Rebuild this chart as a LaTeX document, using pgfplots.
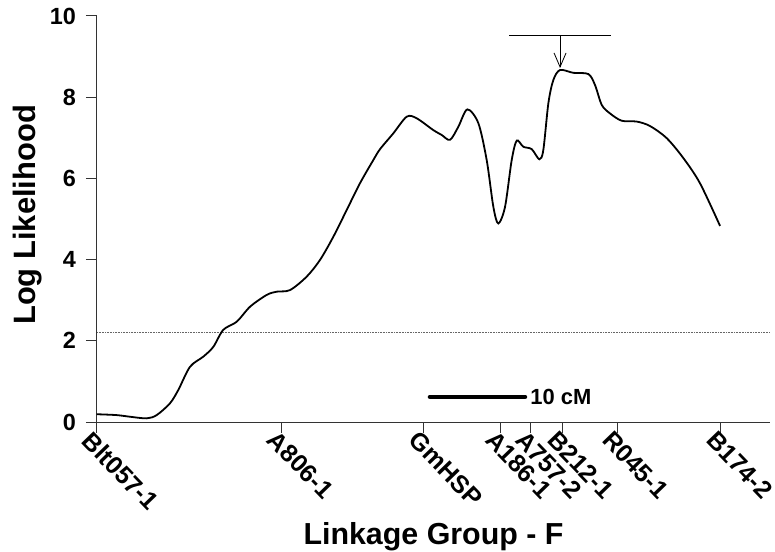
\documentclass[border=0pt]{standalone}
\usepackage{fontspec}
\setmainfont{Liberation Sans}
\usepackage{pgfplots}
\pgfplotsset{compat=1.18}
\usetikzlibrary{arrows.meta}
\begin{document}
\begin{tikzpicture}
\begin{axis}[
  at={(0,0)}, anchor=south west,
  scale only axis, width=673bp, height=406bp,
  xmin=0, xmax=70.84, ymin=0, ymax=10,
  axis x line=bottom, axis y line=left,
  axis line style={-, line width=1bp, black!80},
  tick style={line width=1bp, black!80},
  tick align=outside, major tick length=11bp,
  ytick={0,2,4,6,8,10},
  xtick={0,19.47,34.37,42.42,45.58,48.95,54.74,65.68},
  xticklabels={Blt057-1,A806-1,GmHSP,A186-1,A757-2,B212-1,R045-1,B174-2},
  /pgf/number format/assume math mode=true,
  xticklabel style={font=\bfseries\fontsize{25}{28}\selectfont, rotate=-46, anchor=north west, inner sep=0bp, xshift=-5bp},
  yticklabel style={font=\bfseries\fontsize{23.5}{26}\selectfont, anchor=east, inner sep=2bp, xshift=-8bp},
  xlabel={Linkage Group - F},
  ylabel={Log Likelihood},
  xlabel style={font=\bfseries\fontsize{30.5}{34}\selectfont, at={(axis description cs:0.5,0)}, anchor=center, yshift=-115bp},
  ylabel style={font=\bfseries\fontsize{31}{34}\selectfont, at={(axis description cs:0,0.51)}, anchor=center, yshift=69bp},
  clip=false,
]
\addplot[densely dotted, black!60, line width=0.6bp] coordinates {(0,2.2) (70.84,2.2)};
\addplot[smooth, tension=0.5, line width=1.8bp, black] coordinates {
(0,0.19) (0.14,0.19) (2.07,0.17) (3.47,0.13) (5.23,0.09) (6.28,0.17) (7.68,0.46)
(8.56,0.79) (9.79,1.36) (11.19,1.61) (12.24,1.85) (13.29,2.27) (14.71,2.47)
(16.11,2.84) (17.86,3.13) (18.92,3.21) (20.32,3.25) (22.07,3.58) (23.47,3.99)
(24.87,4.56) (26.28,5.22) (27.68,5.88) (29.08,6.45) (29.79,6.72) (31.19,7.11)
(32.6,7.52) (33.65,7.48) (35.4,7.19) (36.28,7.07) (37.16,6.95) (38.03,7.27)
(38.98,7.70) (40.14,7.36) (41.02,6.45) (41.72,5.30) (42.24,4.89) (42.95,5.30)
(43.65,6.45) (44.18,6.93) (44.87,6.78) (45.76,6.72) (46.56,6.47) (46.98,6.70)
(47.51,7.85) (48.03,8.42) (48.74,8.67) (50.14,8.60) (51.72,8.57) (52.42,8.30)
(53.13,7.81) (54.0,7.60) (55.23,7.42) (56.81,7.40) (58.21,7.29) (59.97,6.99)
(61.72,6.50) (63.47,5.88) (65.58,4.83)};
\addplot[line width=0.8bp, black] coordinates {(43.37,9.51) (54.07,9.51)};
\addplot[line width=0.8bp, black, -{Straight Barb[length=14bp, width=12bp]}] coordinates {(48.74,9.51) (48.74,8.72)};
\addplot[line width=4.5bp, black, line cap=round] coordinates {(35.05,0.62) (45.05,0.62)};
\node[anchor=west, font=\bfseries\fontsize{22}{24}\selectfont, inner sep=0pt] at (axis cs:45.6,0.62) {10 cM};
\end{axis}
\pgfresetboundingbox
\path[use as bounding box] (-97bp,-130bp) rectangle (678bp,422bp);
\end{tikzpicture}
\end{document}
